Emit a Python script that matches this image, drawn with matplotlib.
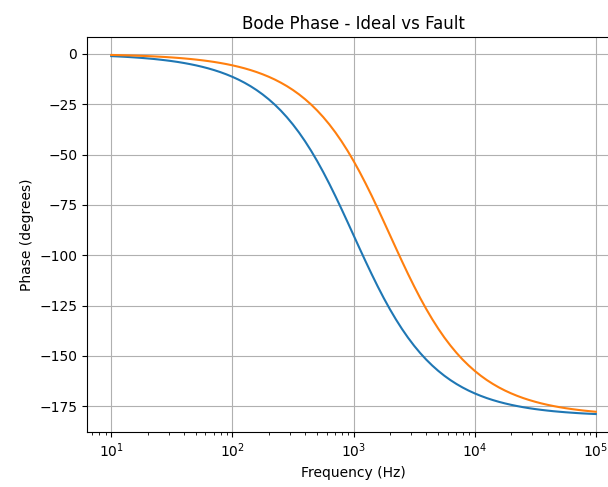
import matplotlib
matplotlib.use("Agg")
import matplotlib.pyplot as plt

# frequencies (Hz), 20 steps per decade
freq = [10, 11.22, 12.59, 14.13, 15.85, 17.78, 19.95, 22.39, 25.12, 28.18,
        31.62, 35.48, 39.81, 44.67, 50.12, 56.23, 63.10, 70.79, 79.43, 89.13,
        100, 112.2, 125.9, 141.3, 158.5, 177.8, 199.5, 223.9, 251.2, 281.8,
        316.2, 354.8, 398.1, 446.7, 501.2, 562.3, 631.0, 707.9, 794.3, 891.3,
        1000, 1122, 1259, 1413, 1585, 1778, 1995, 2239, 2512, 2818,
        3162, 3548, 3981, 4467, 5012, 5623, 6310, 7079, 7943, 8913,
        10000, 11220, 12589, 14125, 15849, 17783, 19953, 22387, 25119, 28184,
        31623, 35481, 39811, 44668, 50119, 56234, 63096, 70795, 79433, 89125,
        100000]

# phase (degrees)
phase_ideal = [-1.15, -1.29, -1.44, -1.62, -1.82, -2.04, -2.29, -2.56, -2.88, -3.23,
               -3.62, -4.06, -4.56, -5.12, -5.74, -6.44, -7.22, -8.10, -9.08, -10.19,
               -11.42, -12.80, -14.35, -16.08, -18.01, -20.17, -22.57, -25.24, -28.20, -31.48,
               -35.10, -39.07, -43.42, -48.14, -53.24, -58.70, -64.50, -70.59, -76.92, -83.41,
               -90.00, -96.59, -103.08, -109.41, -115.50, -121.30, -126.76, -131.86, -136.58, -140.93,
               -144.90, -148.52, -151.80, -154.76, -157.43, -159.83, -161.99, -163.92, -165.65, -167.20,
               -168.58, -169.81, -170.92, -171.90, -172.78, -173.56, -174.26, -174.88, -175.44, -175.94,
               -176.38, -176.77, -177.12, -177.44, -177.71, -177.96, -178.18, -178.38, -178.56, -178.71,
               -178.85]
phase_fault = [-0.57, -0.64, -0.72, -0.81, -0.91, -1.02, -1.14, -1.28, -1.44, -1.61,
               -1.81, -2.03, -2.28, -2.56, -2.87, -3.22, -3.61, -4.05, -4.55, -5.10,
               -5.72, -6.42, -7.20, -8.08, -9.06, -10.16, -11.39, -12.77, -14.32, -16.04,
               -17.97, -20.12, -22.52, -25.18, -28.14, -31.41, -35.02, -38.98, -43.32, -48.04,
               -53.13, -58.58, -64.38, -70.46, -76.79, -83.28, -89.86, -96.45, -102.95, -109.28,
               -115.37, -121.19, -126.65, -131.76, -136.49, -140.85, -144.82, -148.45, -151.74, -154.70,
               -157.38, -159.79, -161.95, -163.88, -165.62, -167.17, -168.55, -169.79, -170.90, -171.88,
               -172.76, -173.55, -174.25, -174.87, -175.43, -175.93, -176.37, -176.76, -177.12, -177.43,
               -177.71]

fig = plt.figure(figsize=(6.08, 4.87), dpi=100)
# right edge of the axes sits just past the picture, as in the reference
ax = fig.add_axes([87 / 608, 1 - 432 / 487, 533 / 608, 395 / 487])

ax.semilogx(freq, phase_ideal, label="Ideal")
ax.semilogx(freq, phase_fault, label="Fault")

ax.set_title("Bode Phase - Ideal vs Fault")
ax.set_xlabel("Frequency (Hz)")
ax.set_ylabel("Phase (degrees)")
ax.grid(True)

fig.savefig("out.png", dpi=100)
